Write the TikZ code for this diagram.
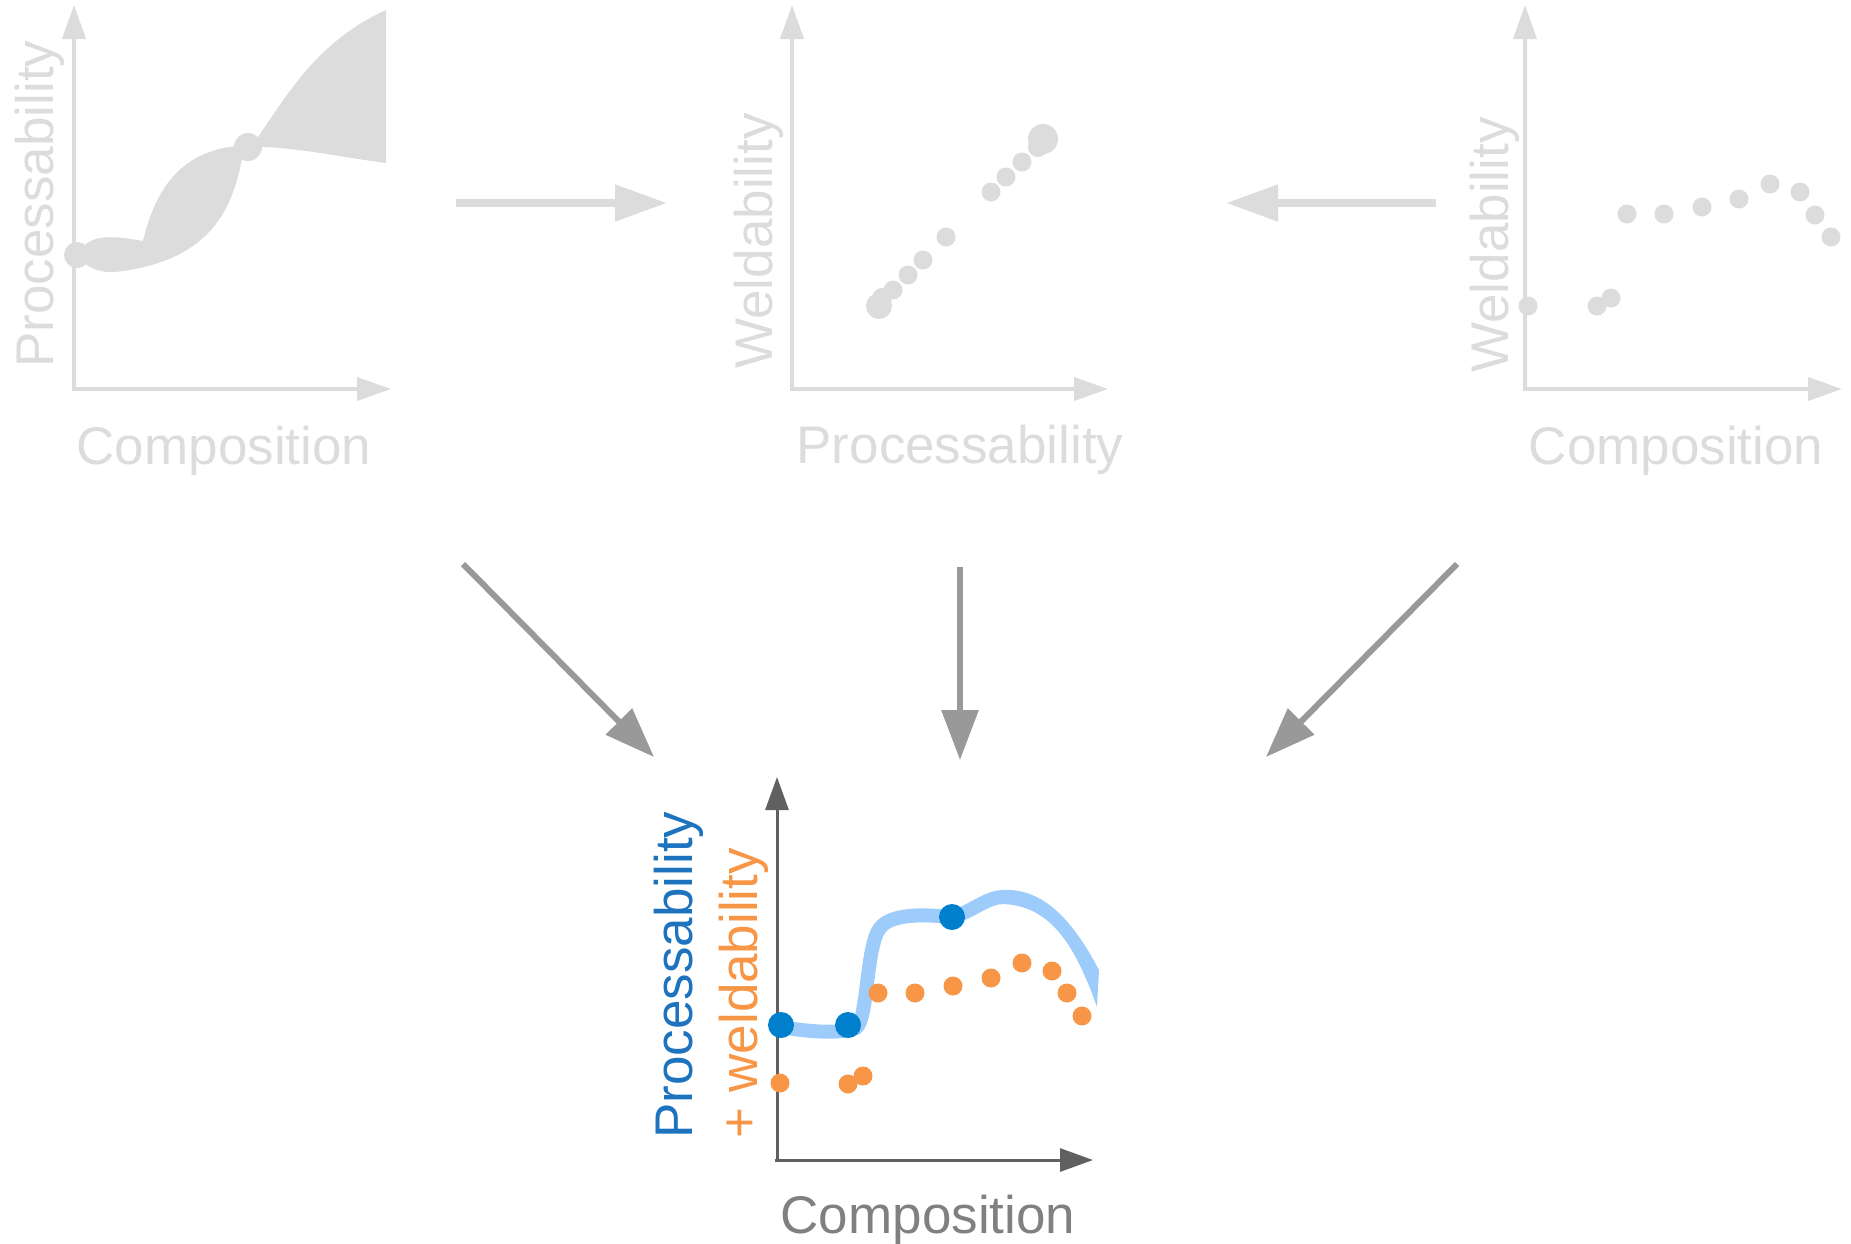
\documentclass[tikz,border=0pt]{standalone}
\usepackage{fontspec}
\setmainfont{Liberation Sans}
\usetikzlibrary{arrows.meta}
\definecolor{fadeg}{RGB}{220,220,220}
\definecolor{arrg}{RGB}{153,153,153}
\definecolor{axdark}{RGB}{96,96,96}
\definecolor{txtg}{RGB}{128,128,128}
\definecolor{bluetxt}{RGB}{30,115,190}
\definecolor{bluedot}{RGB}{0,128,204}
\definecolor{bandblue}{RGB}{158,204,250}
\definecolor{orng}{RGB}{247,150,70}
\begin{document}
\begin{tikzpicture}[x=1pt,y=-1pt,
  lab/.style={inner sep=0pt,font=\fontsize{53}{60}\selectfont,anchor=base},
  vlab/.style={lab,rotate=90},
  faxis/.style={draw=fadeg,line width=4pt,-{Triangle[length=34pt,width=23pt]}},
  daxis/.style={draw=axdark,line width=3pt,-{Triangle[length=33pt,width=23pt]}},
  farrow/.style={draw=fadeg,line width=8pt,-{Triangle[length=52pt,width=35pt]}},
  darrow/.style={draw=arrg,line width=6pt,-{Triangle[length=50pt,width=36pt]}}]
\useasboundingbox (0,0) rectangle (1851,1243);

% ---------- panel 1 ----------
\draw[faxis] (74,389) -- (74,5);
\draw[faxis] (72,389) -- (391,389);
\node[vlab,text=fadeg] (p1y) at (53,204) {Processability};
\node[lab,text=fadeg] (p1x) at (224,464) {Composition};
\fill[fadeg] (258,137) .. controls (290,90) and (320,40) .. (386,10)
  -- (386,163) .. controls (340,157) and (300,148) .. (262,147)
  -- (242,158) .. controls (232,215) and (205,262) .. (115,272)
  .. controls (100,273) and (90,268) .. (83,262)
  -- (85,245) .. controls (95,236) and (110,235) .. (143,241)
  .. controls (155,190) and (180,152) .. (236,146) -- cycle;
\fill[fadeg] (77,255) circle (13pt);
\fill[fadeg] (248,147) circle (14pt);

% ---------- panel 2 ----------
\draw[faxis] (792,389) -- (792,5);
\draw[faxis] (790,389) -- (1108,389);
\node[vlab,text=fadeg] (p2y) at (772,241) {Weldability};
\node[lab,text=fadeg] (p2x) at (960,463) {Processability};
\foreach \x/\y/\r in {991/192/9.5,1006/177/9.5,1022/162/9.5,1038/147/10,1043/139/15,
  946/237/9.5,923/260/9.5,908/275/9.5,893/290/9.5,882/298/10,879/306/13}
  \fill[fadeg] (\x,\y) circle (\r pt);

% ---------- panel 3 ----------
\draw[faxis] (1525,389) -- (1525,5);
\draw[faxis] (1523,389) -- (1842,389);
\node[vlab,text=fadeg] (p3y) at (1508,245) {Weldability};
\node[lab,text=fadeg] (p3x) at (1676,464) {Composition};
\foreach \x/\y in {1528/306,1597/306,1611/298,1627/214,1664/214,1702/207,
  1739/199,1770/184,1800/192,1815/215,1831/237}
  \fill[fadeg] (\x,\y) circle (9.5pt);

% ---------- top arrows ----------
\coordinate (a1s) at (456,203);
\coordinate (a1e) at (667,203);
\coordinate (a2s) at (1436,203);
\coordinate (a2e) at (1226,203);
\draw[farrow] (a1s) -- (a1e);
\draw[farrow] (a2s) -- (a2e);

% ---------- down arrows ----------
\coordinate (d1s) at (463,564);
\coordinate (d1e) at (654,757);
\coordinate (d2s) at (960,567);
\coordinate (d2e) at (960,760);
\coordinate (d3s) at (1457,564);
\coordinate (d3e) at (1266,757);
\draw[darrow] (d1s) -- (d1e);
\draw[darrow] (d2s) -- (d2e);
\draw[darrow] (d3s) -- (d3e);

% ---------- bottom panel ----------
\draw[daxis] (777,1161) -- (777,777);
\draw[daxis] (775,1160) -- (1093,1160);
\node[lab,text=txtg] (bx) at (928,1233) {Composition};
\node[vlab,text=bluetxt] (by1) at (692,975) {Processability};
\node[vlab,text=orng] (by2) at (757,993) {+ weldability};
\draw[bandblue,line width=14pt]
  (781,1027) .. controls (810,1032) and (840,1034) .. (856,1028)
  .. controls (868,1020) and (866,945) .. (880,928)
  .. controls (892,912) and (930,915) .. (952,917)
  .. controls (970,913) and (985,898) .. (1002,897);
\fill[bandblue] (1000,890) .. controls (1040,887) and (1070,915) .. (1099,970)
  -- (1097,1007) .. controls (1075,945) and (1050,904) .. (1000,904) -- cycle;
\foreach \x/\y in {780/1083,848/1084,863/1076,878/993,915/993,953/986,
  991/978,1022/963,1052/971,1067/993,1082/1016}
  \fill[orng] (\x,\y) circle (9.5pt);
\foreach \x/\y in {781/1025,848/1025,952/917}
  \fill[bluedot] (\x,\y) circle (13pt);
\end{tikzpicture}
\end{document}
